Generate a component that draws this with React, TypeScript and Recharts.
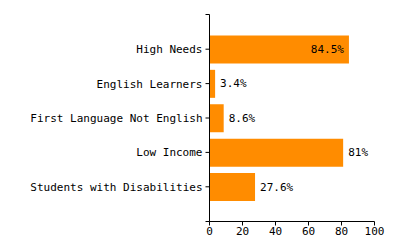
import React from 'react';
import * as R from 'recharts';
import { BarChart, Bar, XAxis, YAxis, LabelList } from 'recharts';

const categories = ['High Needs', 'English Learners', 'First Language Not English', 'Low Income', 'Students with Disabilities'];
const values = [84.5, 3.4, 8.6, 81, 27.6];
const xTicks = [0, 20, 40, 60, 80, 100];

const data = categories.map((name, i) => ({ name, value: values[i] }));

const FONT = '"DejaVu Sans Mono", monospace';

const renderLabel = (props: any) => {
  const { x, y, width, height, value } = props;
  const text = `${value}%`;
  const textW = text.length * 6.62;
  const plotRight = value > 0 ? x + (100 * width) / value : x + width;
  const outsideX = x + width + 5;
  const inside = outsideX + textW > plotRight;
  return (
    <text
      x={inside ? x + width - 5 : outsideX}
      y={y + height / 2}
      textAnchor={inside ? 'end' : 'start'}
      dominantBaseline="central"
      fontFamily={FONT}
      fontSize={11}
      fill="#000"
    >
      {text}
    </text>
  );
};

const AxisCaps = () => {
  const hook = (R as any).usePlotArea;
  const area = hook ? hook() : null;
  if (!area) return null;
  return (
    <g>
      <line x1={area.x - 4} x2={area.x} y1={area.y} y2={area.y} stroke="#000" />
      <line x1={area.x - 4} x2={area.x} y1={area.y + area.height} y2={area.y + area.height} stroke="#000" />
    </g>
  );
};

export default function App() {
  return (
    <div style={{ position: 'absolute', left: 0, top: 0 }}>
      <BarChart
        width={400}
        height={250}
        data={data}
        layout="vertical"
        margin={{ top: 14.5, right: 25.5, bottom: 0, left: 0 }}
        barCategoryGap="10%"
      >
        <XAxis
          type="number"
          domain={[0, 100]}
          ticks={xTicks}
          height={28.5}
          tickSize={4}
          tickMargin={2}
          axisLine={{ stroke: '#000' }}
          tickLine={{ stroke: '#000' }}
          tick={{ fill: '#000', fontFamily: FONT, fontSize: 11 }}
        />
        <YAxis
          type="category"
          dataKey="name"
          width={209.5}
          padding={{ top: 17.5, bottom: 17.5 }}
          tickSize={4}
          tickMargin={3}
          axisLine={{ stroke: '#000' }}
          tickLine={{ stroke: '#000' }}
          tick={{ fill: '#000', fontFamily: FONT, fontSize: 11 }}
          interval={0}
        />
        <Bar dataKey="value" fill="#FF8C00" isAnimationActive={false}>
          <LabelList dataKey="value" content={renderLabel} />
        </Bar>
        <AxisCaps />
      </BarChart>
    </div>
  );
}
